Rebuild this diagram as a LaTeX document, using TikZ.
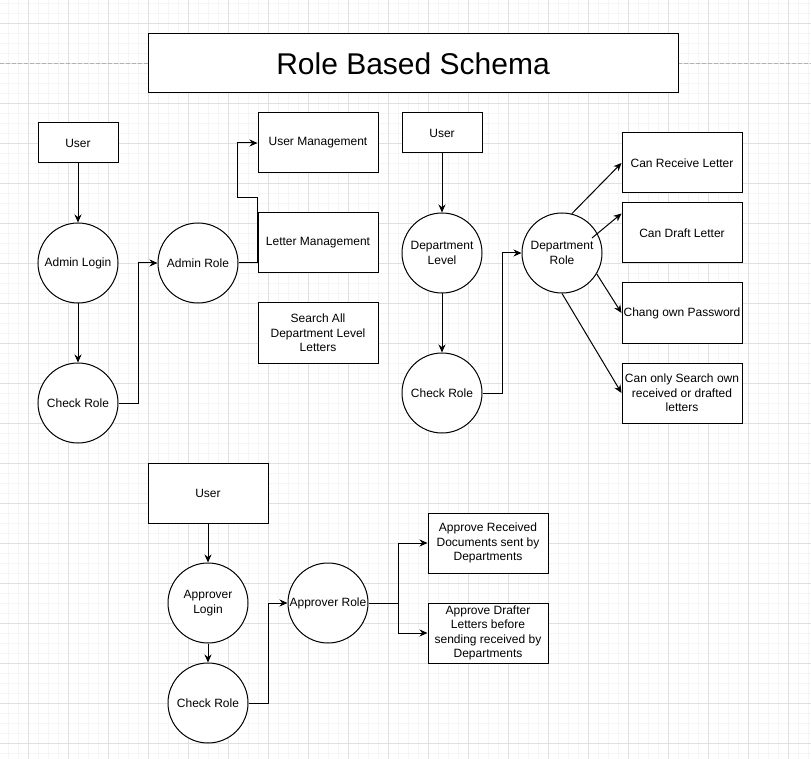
\documentclass[tikz,border=0pt]{standalone}
\usepackage{fontspec}
\setmainfont{Liberation Sans}
\usetikzlibrary{arrows.meta,calc}
\begin{document}
\begin{tikzpicture}[
    x=1pt, y=-1pt,
    box/.style={draw, fill=white, line width=1pt, align=center, inner sep=1pt,
                minimum width=120, minimum height=60,
                font=\fontsize{12}{14.5}\selectfont},
    circ/.style={draw, circle, fill=white, line width=1pt, align=center,
                 inner sep=0pt, minimum size=80,
                 font=\fontsize{12}{15}\selectfont},
    arr/.style={-{Stealth[length=8pt,width=7pt]}, line width=1pt},
    lnk/.style={line width=1pt}
  ]
    \useasboundingbox (0,0) rectangle (811,759);
    % grid
    \foreach \x in {8,18,...,808} \draw[black!4] (\x,0) -- (\x,759);
    \foreach \y in {3,13,...,753} \draw[black!4] (0,\y) -- (811,\y);
    \foreach \x in {28,68,...,788} \draw[black!12] (\x,0) -- (\x,759);
    \foreach \y in {23,63,...,743} \draw[black!12] (0,\y) -- (811,\y);
    \draw[black!30, dash pattern=on 4pt off 2pt] (0,63) -- (811,63);

    \node[box, minimum width=530, minimum height=59,
          font=\fontsize{30}{36}\selectfont] (title) at (413,63.5) {Role Based Schema};

    % admin
    \node[box, minimum width=80, minimum height=40] (user1) at (78,143) {User};
    \node[circ] (alogin) at (78,263) {Admin Login};
    \node[circ] (check1) at (78,403) {Check Role};
    \node[circ] (arole)  at (198,263) {Admin Role};
    \node[box] (umgmt) at (318,143) {User Management};
    \node[box] (lmgmt) at (318,243) {Letter Management};
    \node[box] (sall)  at (318,333) {Search All\\Department Level\\Letters};

    \draw[arr] (user1) -- (alogin);
    \draw[arr] (alogin) -- (check1);
    \draw[arr] (check1.east) -- ++(20,0) |- (arole.west);
    \draw[arr] (arole.east) -- (arole.east -| lmgmt.west) -- ++(0,-65) -- ++(-20,0) |- (umgmt.west);

    % department
    \node[box, minimum width=80, minimum height=40] (user2) at (442,133) {User};
    \node[circ] (dlevel) at (442,253) {Department\\Level};
    \node[circ] (check2) at (442,393) {Check Role};
    \node[circ] (drole)  at (562,253) {Department\\Role};
    \node[box] (recv)  at (682,163) {Can Receive Letter};
    \node[box] (draft) at (682,233) {Can Draft Letter};
    \node[box] (passw) at (682,313) {Chang own Password};
    \node[box] (sown)  at (682,393) {Can only Search own\\received or drafted\\letters};

    \draw[arr] (user2) -- (dlevel);
    \draw[arr] (dlevel) -- (check2);
    \draw[arr] (check2.east) -- ++(20,0) |- (drole.west);
    \draw[arr] (drole.76) -- (recv.west);
    \draw[arr] ($(drole.center)+(30,-15)$) -- ([yshift=-11pt]draft.north west);
    \draw[arr] (drole.-31) -- (passw.west);
    \draw[arr] (drole.south) -- (sown.west);

    % approver
    \node[box, minimum width=120, minimum height=60] (user3) at (208,493) {User};
    \node[circ] (aplogin) at (208,603) {Approver\\Login};
    \node[circ] (check3)  at (208,703) {Check Role};
    \node[circ] (aprole)  at (328,603) {Approver Role};
    \node[box] (aprecv)  at (488,543) {Approve Received\\Documents sent by\\Departments};
    \node[box] (apdraft) at (488,633) {Approve Drafter\\Letters before\\sending received by\\Departments};

    \draw[arr] (user3) -- (aplogin);
    \draw[arr] (aplogin) -- (check3);
    \draw[arr] (check3.east) -- ++(20,0) |- (aprole.west);
    \draw[arr] (aprole.east) -- ++(30,0) |- (aprecv.west);
    \draw[arr] (aprole.east) -- ++(30,0) |- (apdraft.west);
\end{tikzpicture}
\end{document}
